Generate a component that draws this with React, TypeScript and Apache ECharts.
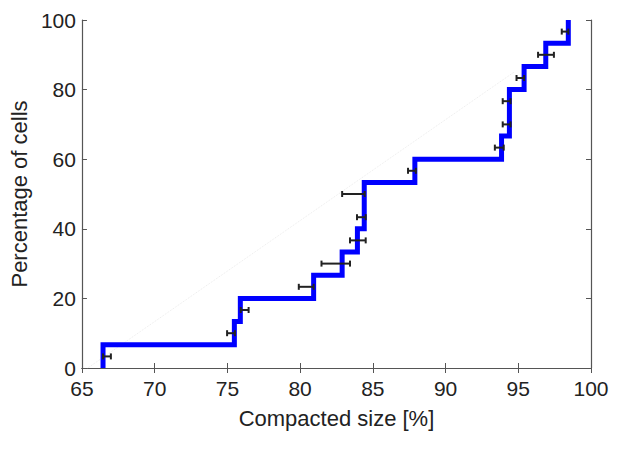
import React, { useEffect, useRef } from "react";
import * as echarts from "echarts";

// Step positions (compacted size, %) and the cumulative level reached at each step
const stepX = [66.45, 75.48, 75.89, 80.93, 82.89, 83.94, 84.41, 87.89, 93.85, 94.39, 95.4, 96.89, 98.44];
const stepTop = [6.67, 13.33, 20, 26.67, 33.33, 40, 53.33, 60, 66.67, 80, 86.67, 93.33, 100];

// Horizontal error bars: low, high, at level
const errY = [3.33, 10, 16.67, 23.33, 30, 36.67, 43.33, 50, 56.67, 63.33, 70, 76.67, 83.33, 90, 96.67];
const errLow = [66.45, 74.98, 75.92, 79.91, 81.47, 83.43, 83.91, 82.89, 87.42, 93.39, 93.93, 93.93, 94.88, 96.36, 97.99];
const errHigh = [66.99, 75.52, 76.46, 80.93, 83.43, 84.51, 84.51, 84.44, 87.96, 94.0, 94.47, 94.47, 95.4, 97.45, 98.44];

// Faint dotted reference line
const refX = [65.4, 94.7];
const refY = [0, 85];

const FONT = '"Liberation Sans", Arial, Helvetica, sans-serif';

export default function App() {
  const ref = useRef<HTMLDivElement>(null);
  useEffect(() => {
    if (!ref.current) return;
    const chart = echarts.init(ref.current, null, { renderer: "svg" });

    const stepData: number[][] = [];
    let prev = 0;
    stepX.forEach((x, i) => {
      stepData.push([x, prev]);
      stepData.push([x, stepTop[i]]);
      prev = stepTop[i];
    });

    const errData = errY.map((y, i) => [errLow[i], errHigh[i], y]);

    const axisLine = { show: true, lineStyle: { color: "#555", width: 1.2 } };
    const tick = { show: true, inside: true, length: 5, lineStyle: { color: "#555", width: 1 } };

    chart.setOption({
      animation: false,
      backgroundColor: "#fff",
      grid: { left: 73.5, right: 29, top: 20, bottom: 83, containLabel: false },
      xAxis: [
        {
          type: "value",
          min: 65,
          max: 100,
          interval: 5,
          position: "bottom",
          axisLine,
          axisTick: tick,
          splitLine: { show: false },
          axisLabel: { color: "#222", fontSize: 21, fontFamily: FONT, margin: 10 },
          name: "Compacted size [%]",
          nameLocation: "middle",
          nameGap: 39,
          nameTextStyle: { color: "#222", fontSize: 22, fontFamily: FONT },
        },
        {
          type: "value",
          min: 65,
          max: 100,
          interval: 5,
          position: "top",
          axisLine,
          axisTick: tick,
          splitLine: { show: false },
          axisLabel: { show: false },
        },
      ],
      yAxis: [
        {
          type: "value",
          min: 0,
          max: 100,
          interval: 20,
          position: "left",
          axisLine,
          axisTick: tick,
          splitLine: { show: false },
          axisLabel: { color: "#222", fontSize: 21, fontFamily: FONT, margin: 6, padding: [7, 0, 0, 0] },
          name: "Percentage of cells",
          nameLocation: "middle",
          nameGap: 44,
          nameTextStyle: { color: "#222", fontSize: 22, fontFamily: FONT },
        },
        {
          type: "value",
          min: 0,
          max: 100,
          interval: 20,
          position: "right",
          axisLine,
          axisTick: tick,
          splitLine: { show: false },
          axisLabel: { show: false },
        },
      ],
      series: [
        {
          type: "line",
          data: refX.map((x, i) => [x, refY[i]]),
          symbol: "none",
          lineStyle: { color: "#ebebeb", width: 1, type: "dotted" },
          z: 1,
          silent: true,
        },
        {
          type: "line",
          data: stepData,
          symbol: "none",
          lineStyle: { color: "#0000ff", width: 5, join: "miter", cap: "butt" },
          z: 2,
          silent: true,
        },
        {
          type: "custom",
          data: errData,
          encode: { x: [0, 1], y: 2 },
          z: 3,
          silent: true,
          renderItem: (params: any, api: any) => {
            const p1 = api.coord([api.value(0), api.value(2)]);
            const p2 = api.coord([api.value(1), api.value(2)]);
            const h = 3;
            const style = { stroke: "#222", lineWidth: 2 };
            return {
              type: "group",
              children: [
                { type: "line", shape: { x1: p1[0], y1: p1[1], x2: p2[0], y2: p2[1] }, style },
                { type: "line", shape: { x1: p1[0], y1: p1[1] - h, x2: p1[0], y2: p1[1] + h }, style },
                { type: "line", shape: { x1: p2[0], y1: p2[1] - h, x2: p2[0], y2: p2[1] + h }, style },
              ],
            };
          },
        },
      ],
    });
    return () => chart.dispose();
  }, []);

  return (
    <div
      ref={ref}
      style={{ position: "fixed", left: 0, top: 0, width: 620, height: 451, background: "#fff" }}
    />
  );
}
